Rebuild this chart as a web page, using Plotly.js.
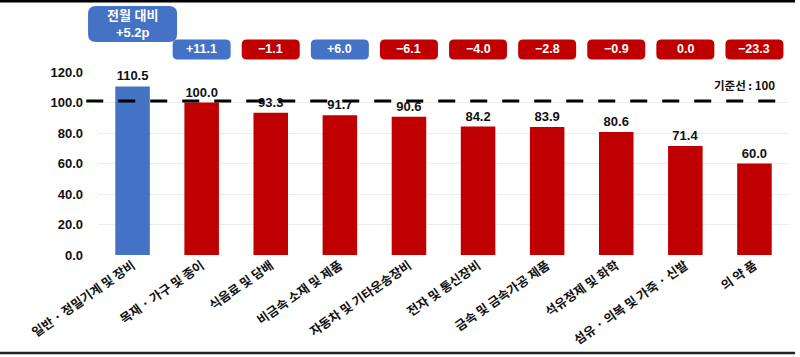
<!DOCTYPE html>
<html>
<head>
<meta charset="utf-8">
<script src="https://cdn.plot.ly/plotly-3.0.1.min.js"></script>
<style>html,body{margin:0;padding:0;background:#fff;}#chart{width:800px;height:357px;}</style>
</head>
<body>
<div id="chart"></div>
<script>
const categories = ["일반 · 정밀기계 및 장비", "목재 · 가구 및 종이", "식음료 및 담배", "비금속 소재 및 제품", "자동차 및 기타운송장비", "전자 및 통신장비", "금속 및 금속가공 제품", "석유정제 및 화학", "섬유 · 의복 및 가죽 · 신발", "의 약 품"];
const values = [110.5, 100.0, 93.3, 91.7, 90.6, 84.2, 83.9, 80.6, 71.4, 60.0];
const changeLabels = ["전월 대비<br>+5.2p", "+11.1", "−1.1", "+6.0", "−6.1", "−4.0", "−2.8", "−0.9", "0.0", "−23.3"];
const changeUp = [true, true, false, true, false, false, false, false, false, false];
const baseline = 100;
const baselineLabel = "기준선 : 100";
const yTicks = [0, 20, 40, 60, 80, 100, 120];

const BLUE = "#4472C4", RED = "#C00000";
const FONT = "Liberation Sans, Arial, 'Noto Sans CJK KR', sans-serif";
const KFONT = "'Noto Sans CJK KR', sans-serif";

function roundRect(w, h, r) {
  const x0 = -w/2, x1 = w/2, y0 = -h/2, y1 = h/2;
  return `M${x0+r},${y0} L${x1-r},${y0} Q${x1},${y0} ${x1},${y0+r} L${x1},${y1-r} Q${x1},${y1} ${x1-r},${y1} L${x0+r},${y1} Q${x0},${y1} ${x0},${y1-r} L${x0},${y0+r} Q${x0},${y0} ${x0+r},${y0} Z`;
}

const colors = categories.map((c, i) => i === 0 ? BLUE : RED);
const n = categories.length;

const trace = {
  type: "bar",
  x: categories,
  y: values,
  marker: {color: colors},
  texttemplate: "%{y:.1f}",
  textposition: "outside",
  textfont: {family: FONT, size: 13, color: "#111", weight: "bold"},
  cliponaxis: false,
  hoverinfo: "skip"
};

const shapes = [];
const annotations = [];

shapes.push({type: "line", xref: "paper", yref: "y", x0: -0.017, x1: 0.995, y0: baseline + 1, y1: baseline + 1,
  line: {color: "#000", width: 3.2, dash: "17px,15px"}, layer: "above"});

annotations.push({xref: "paper", yref: "y", x: 0.982, y: baseline + 1, yshift: 6, xanchor: "right", yanchor: "bottom",
  text: baselineLabel, showarrow: false, font: {family: KFONT, size: 11.5, color: "#111", weight: "bold"}});

categories.forEach((c, i) => {
  const first = i === 0;
  const w = first ? 89 : 58, h = first ? 36 : 20, r = first ? 8 : 5;
  const yc = first ? 1.262 : 1.123;
  // paper position of category centre for range [-0.5, n-0.5]
  const xc = (i + 0.5) / n;
  shapes.push({type: "path", xref: "paper", yref: "paper", xsizemode: "pixel", ysizemode: "pixel",
    xanchor: xc, yanchor: yc, path: roundRect(w, h, r),
    fillcolor: changeUp[i] ? BLUE : RED, line: {width: 0}, layer: "above"});
  annotations.push({xref: "x", yref: "paper", x: c, y: yc, xanchor: "center", yanchor: "middle",
    text: changeLabels[i], showarrow: false,
    font: {family: FONT, size: first ? 13 : 12.5, color: "#fff", weight: "bold"}});
});

shapes.push({type: "line", xref: "paper", yref: "paper", x0: -0.142, x1: 1.0088, y0: 1.388, y1: 1.388, line: {color: "#000", width: 3}});
shapes.push({type: "line", xref: "paper", yref: "paper", x0: -0.142, x1: 1.0088, y0: -0.535, y1: -0.535, line: {color: "#222", width: 2.5}});

const layout = {
  width: 800, height: 357,
  margin: {l: 98, r: 11, t: 72, b: 102, pad: 0},
  paper_bgcolor: "#fff", plot_bgcolor: "#fff",
  bargap: 0.5,
  showlegend: false,
  xaxis: {type: "category", range: [-0.5, n - 0.5], autorange: false, tickangle: -35, automargin: false,
    tickfont: {family: KFONT, size: 12.5, color: "#111", weight: "bold"},
    showgrid: false, zeroline: false, showline: false, ticks: ""},
  yaxis: {range: [0, 120], autorange: false, tickvals: yTicks, tickformat: ".1f", automargin: false,
    tickfont: {family: FONT, size: 13, color: "#111", weight: "bold"},
    gridcolor: "#ececec", gridwidth: 1, zeroline: false, showline: false, ticklabelstandoff: 14},
  shapes: shapes,
  annotations: annotations
};

Plotly.newPlot("chart", [trace], layout, {displayModeBar: false, staticPlot: true});
</script>
</body>
</html>
